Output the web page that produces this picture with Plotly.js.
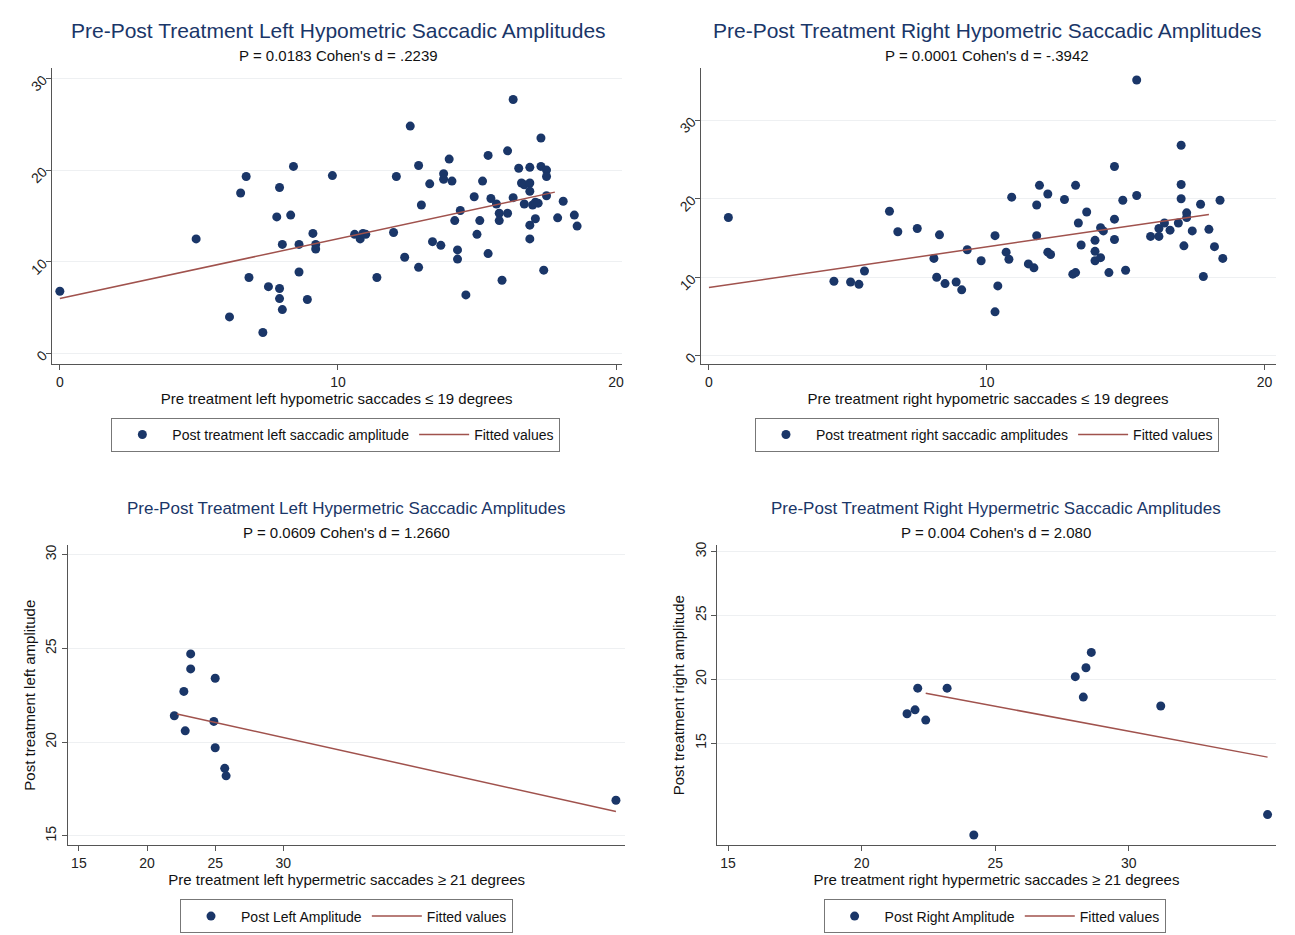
<!DOCTYPE html>
<html><head><meta charset="utf-8">
<script src="https://cdn.plot.ly/plotly-3.0.1.min.js"></script>
<style>body{margin:0;background:#fff}</style></head>
<body><div id="chart" style="width:1295px;height:935px"></div>
<script>
// left hypometric
const lhX=[0,4.9,6.5,6.7,6.8,6.1,7.3,7.5,7.8,7.9,8.0,7.9,7.9,8.0,8.3,8.4,8.6,8.6,8.9,9.1,9.2,9.2,9.8,10.6,10.8,10.9,11.0,11.4,12.0,12.1,12.4,12.6,12.9,12.9,13.0,13.3,13.4,13.7,13.8,13.8,14.0,14.1,14.2,14.3,14.3,14.4,14.6,14.9,15.0,15.1,15.2,15.4,15.4,15.5,15.7,15.8,15.8,15.9,16.1,16.1,16.3,16.3,16.5,16.6,16.7,16.7,16.9,16.9,16.9,16.9,16.9,17.0,17.1,17.1,17.2,17.3,17.3,17.4,17.5,17.5,17.5,17.9,18.1,18.5,18.6];
const lhY=[6.8,12.5,17.5,19.3,8.3,4.0,2.3,7.3,14.9,18.1,11.9,7.1,6.0,4.8,15.1,20.4,11.9,8.9,5.9,13.1,11.9,11.4,19.4,13.0,12.5,13.1,13.0,8.3,13.2,19.3,10.5,24.8,20.5,9.4,16.2,18.5,12.2,11.8,19.6,19.0,21.2,18.8,14.5,11.3,10.3,15.6,6.4,17.1,13.0,14.5,18.8,21.6,10.9,16.9,16.3,15.3,14.5,8.0,22.1,15.3,27.7,17.0,20.2,18.6,16.3,18.4,20.3,18.6,14.0,12.5,17.7,16.2,14.7,16.5,16.4,23.5,20.4,9.1,20.0,19.3,17.2,14.8,16.6,15.1,13.9];
const lhFitX=[0,17.8], lhFitY=[6.0,17.6];
// right hypometric
const rhX=[0.7,4.5,5.1,5.4,5.6,6.5,6.8,7.5,8.1,8.2,8.3,8.5,8.9,9.1,9.3,9.8,10.3,10.3,10.4,10.7,10.8,10.9,11.5,11.7,11.8,11.8,11.9,12.2,12.2,12.3,12.8,13.1,13.2,13.2,13.3,13.4,13.6,13.9,13.9,13.9,14.1,14.1,14.2,14.4,14.6,14.6,14.6,14.9,15.0,15.4,15.4,15.9,16.2,16.2,16.4,16.6,16.9,17.0,17.0,17.0,17.1,17.2,17.2,17.4,17.7,17.8,18.0,18.2,18.4,18.5];
const rhY=[17.6,9.5,9.4,9.1,10.8,18.4,15.8,16.2,12.4,10.0,15.4,9.2,9.4,8.4,13.5,12.1,5.6,15.3,8.9,13.2,12.3,20.2,11.7,11.2,19.2,15.3,21.7,20.6,13.2,12.9,19.9,10.4,10.6,21.7,16.9,14.1,18.3,14.7,13.3,12.1,16.3,12.5,15.9,10.6,24.1,17.4,14.8,19.8,10.9,35.1,20.4,15.2,15.2,16.2,16.9,16.0,16.9,26.8,21.8,20.0,14.0,18.2,17.6,15.9,19.3,10.1,16.1,13.9,19.8,12.4];
const rhFitX=[0,18.0], rhFitY=[8.7,18.0];
// left hypermetric
const lpX=[22.0,22.7,22.8,23.2,23.2,25.0,24.9,25.0,25.7,25.8,54.4];
const lpY=[21.4,22.7,20.6,24.7,23.9,23.4,21.1,19.7,18.6,18.2,16.9];
const lpFitX=[22.2,54.4], lpFitY=[21.5,16.3];
// right hypermetric
const rpX=[21.7,22.0,22.1,22.4,23.2,24.2,28.0,28.4,28.6,28.3,31.2,35.2];
const rpY=[17.3,17.6,19.3,16.8,19.3,7.8,20.2,20.9,22.1,18.6,17.9,9.4];
const rpFitX=[22.4,35.2], rpFitY=[18.9,13.9];

const navy='#1a3668', red='#a0524d';
function pts(x,y,n,name,leg){return {x:x,y:y,xaxis:'x'+n,yaxis:'y'+n,type:'scatter',mode:'markers',name:name,legend:leg,marker:{color:navy,size:9}};}
function fit(x,y,n,leg){return {x:x,y:y,xaxis:'x'+n,yaxis:'y'+n,type:'scatter',mode:'lines',name:'Fitted values',legend:leg,line:{color:red,width:1.5}};}
const data=[
  pts(lhX,lhY,'','Post treatment left saccadic amplitude','legend'),fit(lhFitX,lhFitY,'','legend'),
  pts(rhX,rhY,'2','Post treatment right saccadic amplitudes','legend2'),fit(rhFitX,rhFitY,'2','legend2'),
  pts(lpX,lpY,'3','Post Left Amplitude','legend3'),fit(lpFitX,lpFitY,'3','legend3'),
  pts(rpX,rpY,'4','Post Right Amplitude','legend4'),fit(rpFitX,rpFitY,'4','legend4')
];
const fam='Liberation Sans, Arial';
function ax(dom,range,tv,anchor,title,angle){
  return {domain:dom,range:range,tickvals:tv,anchor:anchor,showline:true,linecolor:'#555',ticks:'outside',ticklen:5,tickcolor:'#555',
    zeroline:false,showgrid:false,tickfont:{family:fam,size:14,color:'#222'},tickangle:angle||0,automargin:false,
    title:{text:title||'',font:{family:fam,size:15,color:'#111'},standoff:4}};
}
function yax(dom,range,tv,anchor,title,angle){
  const a=ax(dom,range,tv,anchor,title,angle); a.showgrid=true; a.gridcolor='#eef0f2'; return a;
}
function leg(x,y){return {orientation:'h',x:x,y:y,xanchor:'left',yanchor:'top',bordercolor:'#777',borderwidth:1,bgcolor:'#fff',
  font:{family:fam,size:14,color:'#111'},itemwidth:50,tracegroupgap:0};}
const layout={
  width:1295,height:935,margin:{l:0,r:0,t:0,b:0,autoexpand:false},paper_bgcolor:'#fff',plot_bgcolor:'#fff',showlegend:true,
  xaxis:ax([0.040,0.480],[-0.29,20.2],[0,10,20],'y','Pre treatment left hypometric saccades ≤ 19 degrees'),
  yaxis:yax([0.611,0.927],[-1.1,31.1],[0,10,20,30],'x','',-45),
  xaxis2:ax([0.541,0.985],[-0.3,20.4],[0,10,20],'y2','Pre treatment right hypometric saccades ≤ 19 degrees'),
  yaxis2:yax([0.611,0.927],[-1.0,36.6],[0,10,20,30],'x2','',-45),
  xaxis3:ax([0.0525,0.483],[14.2,55.1],[15,20,25,30],'y3','Pre treatment left hypermetric saccades ≥ 21 degrees'),
  yaxis3:yax([0.096,0.417],[14.5,30.5],[15,20,25,30],'x3','Post treatment left amplitude',-90),
  xaxis4:ax([0.554,0.985],[14.6,35.5],[15,20,25,30],'y4','Pre treatment right hypermetric saccades ≥ 21 degrees'),
  yaxis4:yax([0.096,0.417],[7.0,30.5],[15,20,25,30],'x4','Post treatment right amplitude',-90),
  legend:leg(0.086,0.553),
  legend2:leg(0.583,0.553),
  legend3:leg(0.139,0.038),
  legend4:leg(0.636,0.038),
  annotations:[
    {text:'Pre-Post Treatment Left Hypometric Saccadic Amplitudes',x:338/1295,y:1-30/935,font:{family:fam,size:21,color:navy}},
    {text:"P = 0.0183 Cohen's d = .2239",x:338/1295,y:1-55/935,font:{family:fam,size:15,color:'#111'}},
    {text:'Pre-Post Treatment Right Hypometric Saccadic Amplitudes',x:987/1295,y:1-30/935,font:{family:fam,size:21,color:navy}},
    {text:"P = 0.0001 Cohen's d = -.3942",x:987/1295,y:1-55/935,font:{family:fam,size:15,color:'#111'}},
    {text:'Pre-Post Treatment Left Hypermetric Saccadic Amplitudes',x:346/1295,y:1-508/935,font:{family:fam,size:17,color:navy}},
    {text:"P = 0.0609 Cohen's d = 1.2660",x:346/1295,y:1-532/935,font:{family:fam,size:15,color:'#111'}},
    {text:'Pre-Post Treatment Right Hypermetric Saccadic Amplitudes',x:996/1295,y:1-508/935,font:{family:fam,size:17,color:navy}},
    {text:"P = 0.004 Cohen's d = 2.080",x:996/1295,y:1-532/935,font:{family:fam,size:15,color:'#111'}}
  ].map(a=>Object.assign({xref:'paper',yref:'paper',showarrow:false,xanchor:'center',yanchor:'middle'},a))
};
Plotly.newPlot('chart',data,layout,{staticPlot:true});
</script></body></html>
